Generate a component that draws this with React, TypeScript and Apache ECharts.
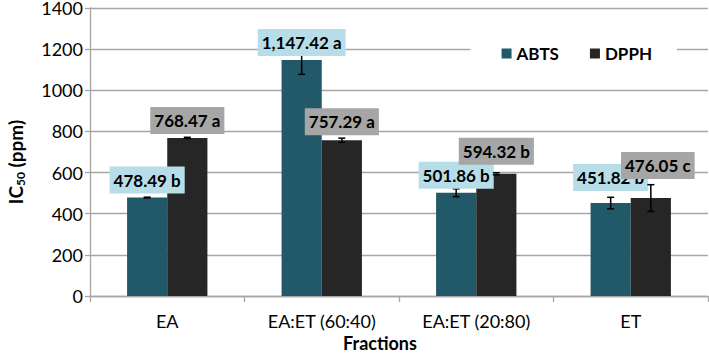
import React, { useEffect, useRef } from "react";
import * as echarts from "echarts";

// IC50 values (ppm) per fraction, with standard deviations and significance letters
const categories = ["EA", "EA:ET (60:40)", "EA:ET (20:80)", "ET"];
const abtsValues = [478.49, 1147.42, 501.86, 451.82];
const dpphValues = [768.47, 757.29, 594.32, 476.05];
const abtsErrors = [2, 70, 19, 28];
const dpphErrors = [3, 10, 5, 65];
const abtsLetters = ["b", "a", "b", "b"];
const dpphLetters = ["a", "a", "b", "c"];
const yMin = 0;
const yMax = 1400;
const yStep = 200;

// value-label placement: lift above the bar top (px) and sideways nudge (px)
const abtsLabelLift = [4, 4, 4, 12];
const dpphLabelLift = [4, 5, 9, 19];
const abtsLabelShift = [0, 0, 0, 0];
const dpphLabelShift = [0, 0, 0, 7];

const ABTS_COLOR = "#215968";
const DPPH_COLOR = "#262626";
const ABTS_LABEL_BG = "#b7dee8";
const DPPH_LABEL_BG = "#a6a6a6";
const GRID_COLOR = "#a6a6a6";
const BAR_RATIO = 0.26;
const FONT = "Lato";

const fmt = (v: number) =>
  v.toLocaleString("en-US", { minimumFractionDigits: 2, maximumFractionDigits: 2 });

// error bars plus the boxed value label for one bar series
function overlaySeries(
  values: number[],
  errors: number[],
  letters: string[],
  side: number,
  bg: string,
  lifts: number[],
  shifts: number[],
  z: number
) {
  return {
    type: "custom",
    z,
    silent: true,
    data: values.map((v, i) => [i, v, errors[i]]),
    renderItem: (_params: any, api: any) => {
      const i = api.value(0);
      const v = api.value(1);
      const e = api.value(2);
      const top = api.coord([i, v]);
      const bandW = api.size([1, 0])[0];
      const barW = bandW * BAR_RATIO;
      const x = top[0] + (side * barW) / 2;
      const yHi = api.coord([i, v + e])[1];
      const yLo = api.coord([i, v - e])[1];
      const cap = 3.5;
      const st = { stroke: "#000", lineWidth: 1.5 };
      return {
        type: "group",
        children: [
          { type: "line", shape: { x1: x, y1: yHi, x2: x, y2: yLo }, style: st },
          { type: "line", shape: { x1: x - cap, y1: yHi, x2: x + cap, y2: yHi }, style: st },
          { type: "line", shape: { x1: x - cap, y1: yLo, x2: x + cap, y2: yLo }, style: st },
          {
            type: "text",
            x: x + shifts[i],
            y: top[1] - lifts[i],
            style: {
              text: fmt(v) + " " + letters[i],
              fill: "#000",
              font: `bold 17px ${FONT}`,
              align: "center",
              verticalAlign: "bottom",
              backgroundColor: bg,
              padding: [5, 4, 5, 4],
            },
          },
        ],
      };
    },
  };
}

export default function App() {
  const ref = useRef<HTMLDivElement>(null);

  useEffect(() => {
    if (!ref.current) return;
    const chart = echarts.init(ref.current, undefined, { renderer: "svg" });
    chart.setOption({
      animation: false,
      backgroundColor: "#fff",
      textStyle: { fontFamily: FONT },
      grid: {
        left: 90,
        right: 1,
        top: 8,
        bottom: 57,
        containLabel: false,
        outerBoundsMode: "none",
      },
      legend: {
        data: ["ABTS", "DPPH"],
        right: 32,
        top: 37,
        icon: "rect",
        itemWidth: 10,
        itemHeight: 10,
        itemGap: 31,
        padding: [8, 25, 8, 31],
        backgroundColor: "#fff",
        textStyle: { fontFamily: FONT, fontSize: 17, fontWeight: "bold", color: "#000" },
      },
      graphic: [
        {
          type: "text",
          x: 380,
          y: 334,
          silent: true,
          style: {
            text: "Fractions",
            fill: "#000",
            font: `bold 18px ${FONT}`,
            align: "center",
            verticalAlign: "top",
          },
        },
      ],
      xAxis: {
        type: "category",
        data: categories,
        axisLine: { lineStyle: { color: GRID_COLOR, width: 1.3 } },
        axisTick: { show: true, length: 6, lineStyle: { color: GRID_COLOR, width: 1.3 } },
        axisLabel: { fontFamily: FONT, fontSize: 18, color: "#000", margin: 16 },
      },
      yAxis: {
        type: "value",
        min: yMin,
        max: yMax,
        interval: yStep,
        name: "{a|IC}{s|50}{a| (ppm)}",
        nameLocation: "middle",
        nameGap: 64,
        nameTextStyle: {
          padding: [0, 20, 0, 0],
          rich: {
            a: {
              fontFamily: FONT,
              fontSize: 19,
              fontWeight: "bold",
              color: "#000",
              lineHeight: 22,
            },
            s: {
              fontFamily: FONT,
              fontSize: 12,
              fontWeight: "bold",
              color: "#000",
              lineHeight: 13,
              verticalAlign: "bottom",
            },
          },
        },
        axisLine: { show: true, lineStyle: { color: GRID_COLOR, width: 1.3 } },
        axisTick: { show: true, length: 5, lineStyle: { color: GRID_COLOR, width: 1.3 } },
        splitLine: { lineStyle: { color: GRID_COLOR, width: 1.3 } },
        axisLabel: {
          fontFamily: FONT,
          fontSize: 18,
          color: "#000",
          margin: 7,
          formatter: (v: number) => String(v),
        },
      },
      series: [
        {
          name: "ABTS",
          type: "bar",
          data: abtsValues,
          barWidth: `${BAR_RATIO * 100}%`,
          barGap: "0%",
          itemStyle: { color: ABTS_COLOR },
          z: 2,
        },
        {
          name: "DPPH",
          type: "bar",
          data: dpphValues,
          barWidth: `${BAR_RATIO * 100}%`,
          barGap: "0%",
          itemStyle: { color: DPPH_COLOR },
          z: 2,
        },
        overlaySeries(abtsValues, abtsErrors, abtsLetters, -1, ABTS_LABEL_BG, abtsLabelLift, abtsLabelShift, 5),
        overlaySeries(dpphValues, dpphErrors, dpphLetters, 1, DPPH_LABEL_BG, dpphLabelLift, dpphLabelShift, 6),
      ],
    });
    return () => chart.dispose();
  }, []);

  return (
    <div
      ref={ref}
      style={{ position: "fixed", left: 0, top: 0, width: 709, height: 353 }}
    />
  );
}
